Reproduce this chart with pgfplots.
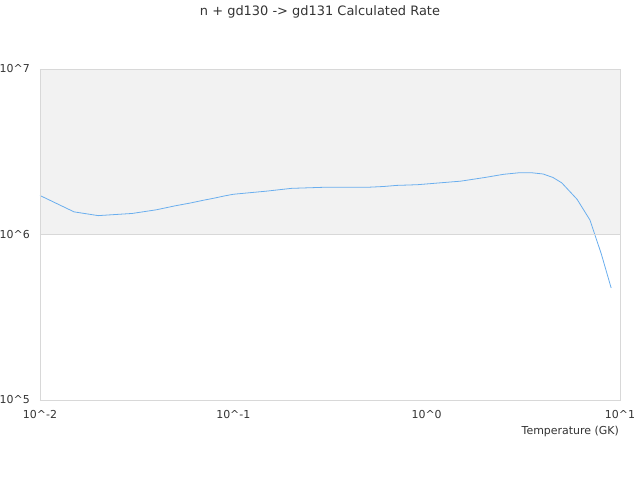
\documentclass[border=0pt]{standalone}
\usepackage{pgfplots}
\pgfplotsset{compat=1.18}
\usepackage{fontspec}
\setmainfont{DejaVu Sans}
\definecolor{rateblue}{HTML}{6AAEEE}
\definecolor{bandgray}{HTML}{F2F2F2}
\definecolor{linegray}{HTML}{D8D8D8}
\definecolor{textgray}{HTML}{333333}

\begin{document}
\begin{tikzpicture}[x=1bp,y=1bp]
\path[use as bounding box] (0,0) rectangle (640,480);
\begin{axis}[
    at={(40bp,80bp)}, anchor=south west,
    scale only axis,
    width=580bp, height=331bp,
    xmode=log, ymode=log,
    xmin=0.01, xmax=10,
    ymin=1e5, ymax=1e7,
    xtick={0.01,0.1,1,10},
    xticklabels={10\textasciicircum-2,10\textasciicircum-1,10\textasciicircum0,10\textasciicircum1},
    ytick={1e5,1e6,1e7},
    yticklabels={10\textasciicircum5,10\textasciicircum6,10\textasciicircum7},
    minor tick num=0,
    major tick length=0pt,
    minor tick length=0pt,
    axis line style={draw=linegray},
    ymajorgrids=true,
    grid style={draw=linegray, line width=0.8pt},
    axis on top,
    tick label style={font=\fontsize{11}{13}\selectfont, text=textgray, inner sep=0pt},
    yticklabel style={anchor=east, xshift=-10bp},
    xticklabel style={anchor=base, yshift=-19bp},
]
% plot band from 10^6 to 10^7
\addplot[draw=none, fill=bandgray] coordinates {(0.01,1e6) (10,1e6) (10,1e7) (0.01,1e7)} -- cycle;

% calculated rate
\addplot[rateblue, line width=0.8pt, mark=none] coordinates {
(0.01,1.72e6) (0.015,1.37e6) (0.02,1.30e6) (0.03,1.34e6) (0.04,1.41e6)
(0.05,1.49e6) (0.06,1.55e6) (0.07,1.61e6) (0.08,1.66e6) (0.09,1.71e6)
(0.1,1.75e6) (0.15,1.83e6) (0.2,1.90e6) (0.3,1.93e6) (0.4,1.93e6)
(0.5,1.93e6) (0.6,1.95e6) (0.7,1.98e6) (0.8,1.99e6) (0.9,2.00e6)
(1,2.02e6) (1.5,2.10e6) (2,2.21e6) (2.5,2.31e6) (3,2.36e6)
(3.5,2.36e6) (4,2.32e6) (4.5,2.21e6) (5,2.05e6) (6,1.63e6)
(7,1.22e6) (8,7.64e5) (9,4.75e5)
};
\end{axis}
\node[text=textgray, font=\fontsize{13}{15}\selectfont] at (320,468) {n + gd130 -> gd131 Calculated Rate};
\node[text=textgray, font=\fontsize{11}{13}\selectfont, anchor=east, inner sep=0pt] at (619,49) {Temperature (GK)};
\end{tikzpicture}
\end{document}
